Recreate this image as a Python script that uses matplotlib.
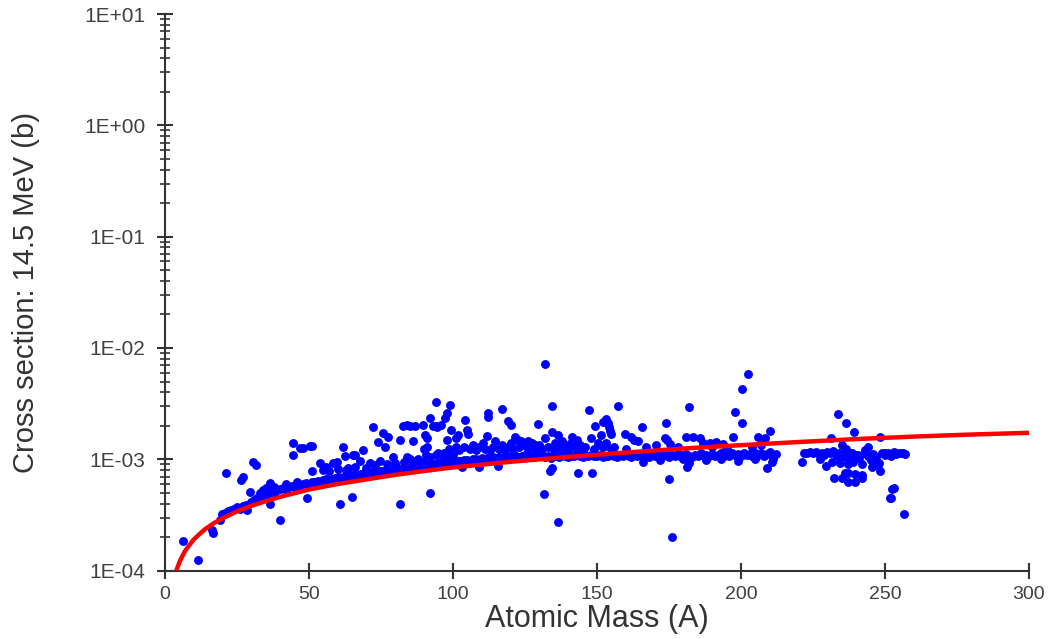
import matplotlib
matplotlib.use("Agg")
import matplotlib.pyplot as plt
import numpy as np

plt.rcParams['font.family'] = ['Liberation Sans', 'DejaVu Sans']

# Fitted curve
curve_mass = [4, 5, 6, 7, 8, 10, 12, 14, 17, 20, 25, 30, 35, 40, 50, 60, 70, 80, 90, 100,
              120, 140, 160, 180, 200, 220, 240, 260, 280, 300]
curve_sigma = [1.0e-4, 1.18e-4, 1.34e-4, 1.5e-4, 1.63e-4, 1.9e-4, 2.13e-4, 2.36e-4, 2.67e-4, 2.95e-4,
               3.4e-4, 3.82e-4, 4.2e-4, 4.6e-4, 5.35e-4, 6.0e-4, 6.6e-4, 7.25e-4, 7.85e-4, 8.45e-4,
               9.5e-4, 1.05e-3, 1.15e-3, 1.25e-3, 1.34e-3, 1.43e-3, 1.52e-3, 1.6e-3, 1.67e-3, 1.73e-3]

# Dense band of measured points (sigma in units of 1e-4 b)
band_mass = [20, 21, 22, 23, 24, 25, 26, 27, 28, 30, 31, 32, 33, 34, 35, 36, 37, 38, 39, 40,
             41, 42, 43, 44, 45, 46, 47, 48, 49, 50, 51, 52, 53, 54, 55, 56, 57, 58, 59, 60,
             61, 62, 63, 64, 65, 66, 67, 68, 69, 70, 71, 72, 73, 74, 75, 76, 77, 78, 79, 80,
             81, 82, 83, 84, 85, 86, 87, 88, 89, 90, 91, 92, 93, 94, 95, 96, 97, 98, 99, 100,
             101, 102, 103, 104, 105, 106, 107, 108, 109, 110, 111, 112, 113, 114, 115, 116, 117, 118, 119, 120,
             121, 122, 123, 124, 125, 126, 127, 128, 129, 130, 131, 132, 133, 134, 135, 136, 137, 138, 139, 140,
             141, 142, 143, 144, 145, 146, 147, 148, 149, 150,
             151, 152, 153, 154, 155, 156, 157, 158, 159, 160, 161, 162, 163, 164, 165, 166, 167, 168, 169, 170,
             171, 172, 173, 174, 175, 176, 177, 178, 179, 180, 181, 182, 183, 184, 185, 186, 187, 188, 189, 190,
             191, 192, 193, 194, 195, 196, 197, 198, 199, 200, 201, 202, 203, 204, 205, 206, 207, 208, 209, 210,
             211, 212,
             222, 223, 224, 225, 226, 227, 228, 229, 230, 231, 232, 233, 234, 235, 236, 237, 238, 239, 240, 241,
             242, 243, 244, 245, 246, 247, 248, 249, 250, 251, 252, 253, 254, 255, 256, 257]
band_sigma_e4 = [3.2, 3.3, 3.4, 3.5, 3.6, 3.7, 3.6, 3.8, 3.9, 4.1, 4.3, 4.5, 4.6, 4.7, 4.8, 5.0, 5.1, 5.0, 5.3, 5.4,
                 5.5, 5.3, 5.6, 5.7, 5.6, 5.8, 5.9, 6.0, 6.1, 6.0, 6.2, 6.3, 6.4, 6.3, 6.5, 6.6, 6.5, 6.7, 6.8, 6.9,
                 6.8, 7.0, 7.1, 7.0, 7.2, 7.3, 7.2, 7.4, 7.5, 7.4, 7.6, 7.7, 7.6, 7.8, 7.9, 7.8, 8.0, 8.1, 8.0, 8.2,
                 8.3, 8.2, 8.4, 8.5, 8.4, 8.6, 8.7, 8.6, 8.8, 8.9, 8.8, 9.0, 9.1, 9.0, 9.2, 9.3, 9.2, 9.4, 9.5, 9.4,
                 9.6, 9.7, 9.6, 9.8, 9.9, 9.7, 10.0, 10.1, 9.9, 10.2, 10.0, 10.3, 10.1, 10.4, 10.2, 10.5, 10.3, 10.6, 10.4, 10.7,
                 10.5, 10.8, 10.4, 10.6, 10.9, 10.5, 10.7, 10.4, 10.8, 10.6, 10.9, 10.5, 10.7, 10.3, 10.8, 10.6, 10.4, 10.9, 10.7, 10.5,
                 10.8, 10.6, 11.0, 10.7, 10.5, 10.9, 10.6, 11.0, 10.8, 10.6,
                 10.9, 10.5, 10.8, 10.6, 11.0, 10.7, 10.4, 10.9, 10.6, 11.1, 10.8, 10.5, 11.0, 10.7, 11.2, 10.6, 10.9, 10.5, 11.1, 10.8,
                 10.6, 11.0, 10.7, 11.2, 10.5, 10.9, 10.7, 11.1, 10.6, 10.9, 11.2, 10.7, 10.5, 11.0, 10.8, 11.3, 10.6, 11.0, 10.8, 11.2,
                 10.7, 11.0, 11.4, 10.8, 11.1, 10.6, 11.3, 10.9, 11.1, 10.7, 11.4, 11.0, 11.2, 10.8, 11.5, 11.0, 11.3, 10.6, 11.1, 11.6,
                 10.9, 11.2,
                 11.5, 11.3, 11.6, 11.4, 11.7, 11.2, 11.5, 11.0, 11.6, 11.3, 11.8, 11.0, 11.4, 10.5, 11.2, 10.0, 11.5, 9.5, 11.0, 10.2,
                 9.0, 11.3, 10.6, 9.8, 11.2, 10.4, 9.2, 11.5, 11.0, 11.4, 10.8, 11.6, 11.2, 11.5, 11.3, 11.1]

# Scattered points (sigma in b)
scat_mass = [6.4, 11.6, 16.2, 16.8, 19.1, 21.4, 26.6, 27.2, 28.4, 29.5, 30.7, 31.5, 36.5, 36.5, 39.9,
             44.6, 44.6, 46.9, 48, 50.3, 51, 51, 49.2, 33, 34, 35, 38, 42, 46,
             53.8, 56.1, 58.4, 59.6, 61.9, 62.5, 65.4, 66, 68.9, 67.7, 63.7, 60.8, 64.8, 72.3, 71.2,
             74.1, 75.8, 77.5, 76.4, 74.6, 79.3, 81.6, 81.6, 82.8, 83.9, 85.1, 86.8, 83, 85, 86, 86.2,
             89.7, 90.3, 90.9, 90, 90.5, 89.5, 91, 92, 92.2, 93, 94, 94.5, 94.3, 96, 97.2, 97.8, 99,
             98, 99.5, 98.5, 100, 101, 101, 95, 96.5,
             55, 57, 60, 63, 66, 70, 73, 77, 80, 84, 88, 92, 94, 97, 99,
             131.9, 112.3, 112.3, 116.9, 104.2, 119.2, 120.1, 105, 105.3, 101.9, 112, 114.6, 110.5,
             121.5, 122.7, 123.8, 125, 126.2, 127.3, 128.5, 129.6, 134.3, 134.3, 136.6, 132, 135.4,
             141.2, 147.3, 149.3, 152.2, 148, 150.5, 151.5, 134.3, 133.7, 131.7, 136.6, 143.5, 148.2,
             109, 115.7, 103,
             102, 104, 106, 107, 108, 109, 111, 113, 114, 116, 117, 118, 119, 120, 121, 123, 124, 126,
             128, 129, 130, 131, 133, 135, 137, 138, 139, 140, 142, 143, 144, 145, 146, 149, 138, 141, 143,
             157.4, 153.3, 153.8, 154.3, 154.5, 155, 159.7, 162, 163, 164.3, 165.5, 174.1, 170.4, 173.7,
             174.5, 175.3, 175.1, 176.2, 182, 181, 183.4, 185.7, 181.1, 182, 186.9, 189.2, 191.5, 193.8,
             197.3, 197.9, 200.5, 202.5, 200.5, 210.1, 206, 208.3, 209, 211.2, 210.7,
             156, 160, 167, 178, 190, 195, 204, 207, 166, 172, 180, 188, 193, 199, 205, 211,
             151, 152, 153, 155,
             221.3, 227.4, 229.5, 231.3, 233.6, 236.5, 239.2, 232.4, 235, 237.3, 239.5, 241.9, 236, 237.3,
             239.5, 241.9, 235, 236.5, 238.5, 240.8, 243, 244, 234, 231.5, 234.4, 237.3, 245.4, 246.5,
             247.7, 248.3, 245.4, 248.3, 250, 252.3, 251.7, 256.4, 256.6, 253.2, 252.1]
scat_sigma = [1.85e-4, 1.25e-4, 2.32e-4, 2.17e-4, 2.85e-4, 7.5e-4, 6.5e-4, 7.0e-4, 3.5e-4, 5.1e-4,
              9.5e-4, 8.9e-4, 4.0e-4, 6.1e-4, 2.85e-4,
              1.4e-3, 1.1e-3, 1.26e-3, 1.26e-3, 1.33e-3, 1.33e-3, 7.8e-4, 4.5e-4, 5.0e-4, 5.3e-4, 5.5e-4, 5.6e-4, 6.0e-4, 6.2e-4,
              9.2e-4, 8.6e-4, 9.2e-4, 9.4e-4, 1.3e-3, 1.07e-3, 1.1e-3, 1.1e-3, 1.22e-3, 9.7e-4, 8.4e-4,
              4.0e-4, 4.6e-4, 1.97e-3, 9.3e-4,
              1.43e-3, 1.71e-3, 1.6e-3, 1.3e-3, 9.7e-4, 1.04e-3, 1.49e-3, 3.95e-4, 2.0e-3, 2.05e-3,
              2.0e-3, 2.0e-3, 9.5e-4, 1.0e-3, 9.6e-4, 1.45e-3,
              2.04e-3, 1.65e-3, 1.55e-3, 1.25e-3, 1.1e-3, 9.4e-4, 1.3e-3, 2.34e-3, 5.0e-4, 2.0e-3,
              2.0e-3, 1.95e-3, 3.3e-3, 2.05e-3, 2.34e-3, 2.6e-3, 3.1e-3,
              1.5e-3, 1.85e-3, 1.25e-3, 1.1e-3, 1.55e-3, 1.3e-3, 1.15e-3, 9.8e-4,
              8.0e-4, 7.8e-4, 8.2e-4, 8.0e-4, 8.5e-4, 8.3e-4, 8.8e-4, 9.0e-4, 9.2e-4, 1.05e-3, 1.0e-3,
              1.05e-3, 1.1e-3, 1.15e-3, 1.05e-3,
              7.15e-3, 2.6e-3, 2.42e-3, 2.82e-3, 2.26e-3, 2.2e-3, 2.05e-3, 1.85e-3, 1.7e-3, 1.65e-3,
              1.63e-3, 1.45e-3, 1.4e-3,
              1.6e-3, 1.5e-3, 1.45e-3, 1.4e-3, 1.45e-3, 1.4e-3, 1.35e-3, 2.08e-3, 3.04e-3, 1.75e-3,
              1.65e-3, 1.55e-3, 1.4e-3,
              1.6e-3, 2.78e-3, 2.0e-3, 2.15e-3, 1.55e-3, 1.4e-3, 1.65e-3, 8.3e-4, 7.8e-4, 4.86e-4,
              2.75e-4, 7.6e-4, 7.5e-4,
              8.5e-4, 8.7e-4, 8.6e-4,
              1.2e-3, 1.3e-3, 1.25e-3, 1.35e-3, 1.2e-3, 1.3e-3, 1.25e-3, 1.2e-3, 1.3e-3, 1.25e-3, 1.35e-3,
              1.2e-3, 1.3e-3, 1.4e-3, 1.25e-3, 1.3e-3, 1.35e-3, 1.25e-3,
              1.3e-3, 1.2e-3, 1.35e-3, 1.25e-3, 1.3e-3, 1.2e-3, 1.3e-3, 1.25e-3, 1.35e-3, 1.2e-3, 1.3e-3,
              1.25e-3, 1.35e-3, 1.2e-3, 1.3e-3, 1.25e-3, 1.45e-3, 1.4e-3, 1.5e-3,
              3.04e-3, 2.3e-3, 2.1e-3, 1.95e-3, 1.8e-3, 1.7e-3, 1.7e-3, 1.6e-3, 1.5e-3, 1.45e-3, 1.97e-3,
              2.14e-3, 1.35e-3, 1.55e-3,
              1.5e-3, 1.37e-3, 6.7e-4, 2.0e-4, 2.94e-3, 1.6e-3, 1.6e-3, 1.55e-3, 8.6e-4, 9.3e-4, 1.4e-3,
              1.4e-3, 1.42e-3, 1.37e-3,
              1.58e-3, 2.65e-3, 4.3e-3, 5.9e-3, 2.1e-3, 1.8e-3, 1.6e-3, 1.57e-3, 8.4e-4, 1.05e-3, 9.5e-4,
              1.3e-3, 1.25e-3, 1.3e-3, 1.3e-3, 1.3e-3, 1.25e-3, 1.3e-3, 1.35e-3, 9.5e-4, 9.8e-4, 1.0e-3,
              9.8e-4, 1.0e-3, 9.7e-4, 1.0e-3, 1.0e-3,
              1.35e-3, 1.3e-3, 1.4e-3, 1.25e-3,
              9.5e-4, 1.0e-3, 8.7e-4, 1.55e-3, 2.54e-3, 2.14e-3, 1.75e-3, 6.8e-4, 6.8e-4, 6.3e-4, 6.3e-4,
              6.8e-4, 7.5e-4, 7.6e-4,
              7.4e-4, 7.2e-4, 1.35e-3, 1.25e-3, 1.15e-3, 1.1e-3, 1.2e-3, 1.3e-3, 1.05e-3, 9.5e-4, 9.3e-4,
              9.0e-4, 1.1e-3, 9.7e-4,
              8.8e-4, 7.8e-4, 8.6e-4, 1.58e-3, 1.15e-3, 5.4e-4, 4.47e-4, 1.14e-3, 3.2e-4, 5.5e-4, 4.5e-4]

x_ticks = [0, 50, 100, 150, 200, 250, 300]
y_ticks = [1e-4, 1e-3, 1e-2, 1e-1, 1e0, 1e1]
y_tick_labels = ["1E-04", "1E-03", "1E-02", "1E-01", "1E+00", "1E+01"]

fig = plt.figure(figsize=(10.5, 6.39), dpi=100)
ax = fig.add_axes([0.157, 0.107, 0.823, 0.871])

blue = '#0000ff'
ax.plot(band_mass, np.array(band_sigma_e4) * 1e-4, 'o', color=blue, ms=6.4, mec='none', zorder=2)
ax.plot(scat_mass, scat_sigma, 'o', color=blue, ms=6.4, mec='none', zorder=2)
ax.plot(curve_mass, curve_sigma, '-', color='#ff0000', lw=3.2, zorder=3,
        solid_capstyle='butt')

ax.set_yscale('log')
ax.set_xlim(0, 300)
ax.set_ylim(1e-4, 1e1)
ax.set_xticks(x_ticks)
ax.set_xticklabels([str(t) for t in x_ticks])
ax.set_yticks(y_ticks)
ax.set_yticklabels(y_tick_labels)
ax.yaxis.set_minor_locator(matplotlib.ticker.LogLocator(base=10, subs=np.arange(2, 10), numticks=20))
ax.yaxis.set_minor_formatter(matplotlib.ticker.NullFormatter())

for s in ['top', 'right']:
    ax.spines[s].set_visible(False)
for s in ['left', 'bottom']:
    ax.spines[s].set_linewidth(1.5)
    ax.spines[s].set_color('#333333')

ax.tick_params(axis='both', which='major', direction='inout', length=12, width=1.5,
               color='#333333', labelsize=15, labelcolor='#404040')
ax.tick_params(axis='y', which='minor', direction='inout', length=7, width=1.2, color='#333333')
ax.tick_params(axis='x', pad=5, labelsize=14)
ax.tick_params(axis='y', pad=8)

ax.set_xlabel('Atomic Mass (A)', fontsize=22, color='#333333', labelpad=1)
ax.set_ylabel('Cross section: 14.5 MeV (b)', fontsize=21, color='#333333', labelpad=32)

fig.savefig('out.png', dpi=100)
